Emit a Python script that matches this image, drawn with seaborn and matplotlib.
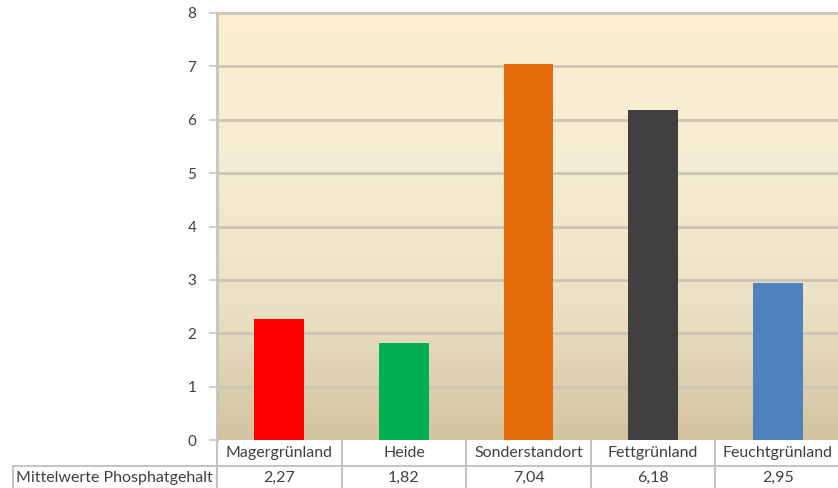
import numpy as np
import matplotlib
matplotlib.use("Agg")
import matplotlib.pyplot as plt
import matplotlib.transforms as mtransforms
from matplotlib.colors import LinearSegmentedColormap
import seaborn as sns
import pandas as pd

categories = ["Magergrünland", "Heide", "Sonderstandort", "Fettgrünland", "Feuchtgrünland"]
values = [2.27, 1.82, 7.04, 6.18, 2.95]
colors = ["#FF0000", "#00B050", "#E46C0A", "#404040", "#4F81BD"]
row_label = "Mittelwerte Phosphatgehalt"
yticks = [0, 1, 2, 3, 4, 5, 6, 7, 8]

sns.set_theme(style="white")
plt.rcParams['font.family'] = ['Lato', 'DejaVu Sans']

W, H = 838, 488
fig = plt.figure(figsize=(W / 100, H / 100), dpi=100)
fig.patch.set_facecolor("white")

left_px, right_px, top_px, bottom_px = 217, 840, 13, 440
ax = fig.add_axes([left_px / W, (H - bottom_px) / H, (right_px - left_px) / W, (bottom_px - top_px) / H])

# gradient background (cream at top, tan at bottom)
cmap = LinearSegmentedColormap.from_list("bg", ["#FDEFCF", "#F4ECD4", "#ECE2C6", "#D3C4A0"])
grad = np.linspace(0, 1, 256).reshape(-1, 1)
ax.imshow(grad, cmap=cmap, aspect="auto", origin="upper", extent=(0, 1, 0, 1),
          transform=ax.transAxes, zorder=0)

df = pd.DataFrame({"cat": categories, "val": values})
sns.barplot(data=df, x="cat", y="val", hue="cat", palette=colors, width=0.4,
            legend=False, ax=ax, zorder=3, saturation=1, edgecolor="none")

ax.set_xlim(-0.5, len(categories) - 0.5)
ax.set_ylim(0, 8)
ax.set_yticks(yticks)
ax.set_yticklabels([str(t) for t in yticks], fontsize=11, color="#404040")
ax.set_xticks([])
ax.set_xlabel("")
ax.set_ylabel("")
ax.tick_params(axis="y", length=6, width=1.2, color="#C8C8C8", pad=9, left=True)
for t in yticks[1:]:
    ax.axhline(t, color="#CCC4B4", lw=2, zorder=1, clip_on=False)
for s in ["top", "right", "bottom"]:
    ax.spines[s].set_visible(False)
ax.spines["left"].set_color("#C8C4BC")
ax.spines["left"].set_linewidth(2)
ax.spines["left"].set_zorder(2)

# data table under the chart
trans = mtransforms.blended_transform_factory(ax.transData, ax.transAxes)
ah = bottom_px - top_px
row1 = -(453 - bottom_px) / ah
row2 = -(478 - bottom_px) / ah
fs = 11.5
for i, (c, v) in enumerate(zip(categories, values)):
    ax.text(i, row1, c, transform=trans, ha="center", va="center", fontsize=fs, color="#404040", clip_on=False)
    ax.text(i, row2, f"{v:.2f}".replace(".", ","), transform=trans, ha="center", va="center",
            fontsize=fs, color="#404040", clip_on=False)
fig.text(16 / W, (H - 478) / H, row_label, ha="left", va="center", fontsize=fs, color="#404040")

lc = "#C4C4C4"
y_a = -(466 - bottom_px) / ah
y_b = -(500 - bottom_px) / ah
for i in range(len(categories) + 1):
    ax.plot([i - 0.5, i - 0.5], [0, y_b], transform=trans, color=lc, lw=1.5, clip_on=False, zorder=5)
ax.plot([-0.5, len(categories) - 0.5], [y_a, y_a], transform=trans, color=lc, lw=1.5, clip_on=False, zorder=5)
fig.add_artist(plt.Line2D([13 / W, left_px / W], [(H - 466) / H, (H - 466) / H], color=lc, lw=1.5))
fig.add_artist(plt.Line2D([13 / W, 13 / W], [(H - 466) / H, 0], color=lc, lw=1.5))

fig.savefig("out.png", dpi=100, facecolor="white")
